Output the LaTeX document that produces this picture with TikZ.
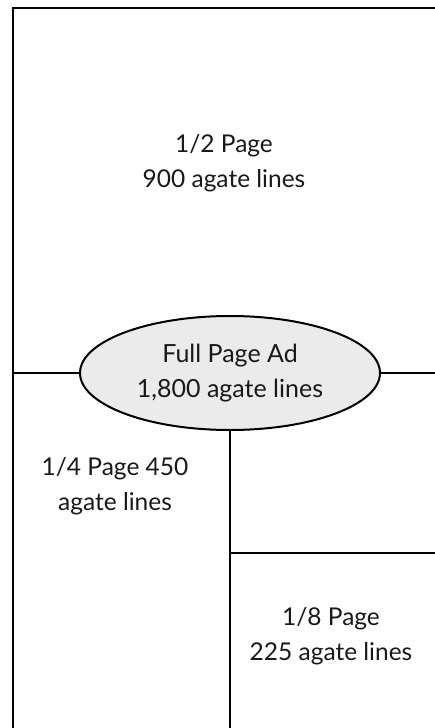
\documentclass[tikz,border=0pt]{standalone}
\usepackage{fontspec}
\setmainfont{Lato}
\usetikzlibrary{shapes.geometric}
\definecolor{ellfill}{HTML}{EBEBEB}
\tikzset{
  rule/.style={line width=2pt, draw=black},
  label/.style={align=center, font=\fontsize{24.5}{35}\selectfont, text=black!90},
  adell/.style={ellipse, draw=black, line width=2pt, fill=ellfill, minimum width=300pt, minimum height=114pt, inner sep=0pt, align=center, font=\fontsize{25}{35}\selectfont, text=black!90}
}
\begin{document}
\begin{tikzpicture}[x=1pt,y=-1pt]
\useasboundingbox (0,0) rectangle (435,728);
% frame
\coordinate (bl) at (12.5,728);
\coordinate (tl) at (12.5,8);
\coordinate (tr) at (435,8);
\draw[rule] (bl) -- (tl) -- (tr);
% ellipse
\node[adell] (full) at (230,373) {Full Page Ad\\1,800 agate lines};
\coordinate (lm) at (12.5,373);
\coordinate (rm) at (435,373);
\draw[rule] (lm) -- (full.west);
\draw[rule] (full.east) -- (rm);
\coordinate (vb) at (230,728);
\draw[rule] (full.south) -- (vb);
\coordinate (vh) at (230,553);
\coordinate (rh) at (435,553);
\draw[rule] (vh) -- (rh);
% labels
\node[label] (half) at (224,163) {1/2 Page\\900 agate lines};
\node[label] (quarter) at (115,486) {1/4 Page 450\\agate lines};
\node[label] (eighth) at (331,636) {1/8 Page\\225 agate lines};
\end{tikzpicture}
\end{document}
